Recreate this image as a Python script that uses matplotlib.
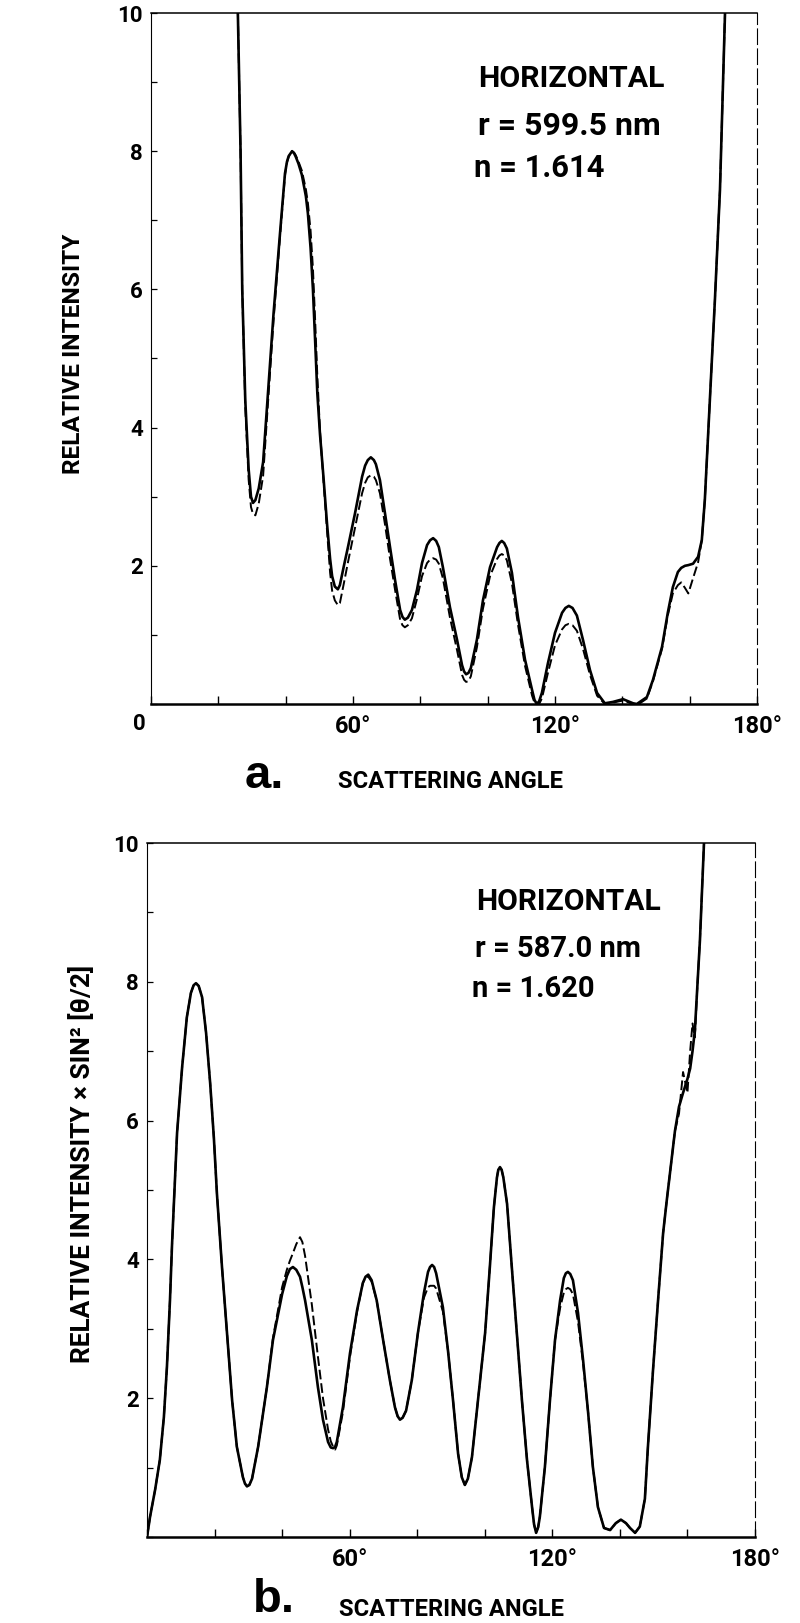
import matplotlib
matplotlib.use('Agg')
import matplotlib.pyplot as plt

plt.rcParams['font.family'] = ['Liberation Sans Narrow', 'Roboto', 'DejaVu Sans']
plt.rcParams['font.weight'] = 'bold'

# panel a: relative intensity, solid and dashed curves
angle_a = [25.0, 25.8, 26.6, 27.1, 28.0, 29.0, 29.7, 30.3, 31.0, 32.0,
           33.3, 34.6, 36.4, 38.3, 39.8, 40.4, 40.9, 41.9, 42.5, 43.0,
           43.8, 44.8, 46.0, 46.6, 47.4, 48.1, 48.8, 49.4, 50.2, 51.2,
           52.3, 53.2, 53.8, 54.6, 55.5, 56.1, 57.3, 58.5, 60.6, 62.7,
           63.6, 64.4, 65.3, 66.2, 66.8, 68.0, 69.5, 71.0, 72.5, 74.0,
           74.7, 75.4, 76.3, 77.5, 79.0, 80.5, 82.0, 82.9, 83.8, 84.7,
           85.5, 86.7, 88.8, 90.9, 92.4, 93.0, 93.6, 94.3, 95.0, 96.8,
           98.6, 100.7, 102.8, 103.5, 104.2, 104.9, 105.7, 107.2, 109.0, 111.1,
           113.2, 113.9, 114.6, 115.3, 116.1, 117.9, 120.0, 122.1, 123.1, 124.1,
           125.2, 126.5, 128.3, 130.4, 132.5, 134.8, 137.2, 140.2, 143.2, 144.3,
           147.3, 149.1, 151.8, 153.5, 155.0, 156.5, 157.5, 158.6, 159.6, 161.0,
           162.5, 163.6, 164.5, 165.4, 166.3, 167.5, 169.0, 170.5, 171.2]
solid_a = [11.5, 10.0, 8.0, 6.0, 4.4, 3.4, 3.0, 2.91, 2.95, 3.12,
           3.5, 4.4, 5.65, 6.8, 7.68, 7.85, 7.93, 8.0, 7.97, 7.92,
           7.82, 7.66, 7.35, 7.1, 6.6, 6.0, 5.2, 4.5, 3.9, 3.3,
           2.6, 2.1, 1.85, 1.7, 1.66, 1.72, 2.0, 2.27, 2.76, 3.29,
           3.45, 3.53, 3.57, 3.53, 3.47, 3.24, 2.76, 2.27, 1.79, 1.36,
           1.26, 1.22, 1.25, 1.36, 1.65, 2.04, 2.30, 2.37, 2.40, 2.36,
           2.27, 1.98, 1.40, 0.93, 0.56, 0.47, 0.43, 0.45, 0.52, 0.93,
           1.50, 1.98, 2.27, 2.33, 2.36, 2.33, 2.25, 1.90, 1.26, 0.64,
           0.20, 0.06, 0.0, 0.04, 0.16, 0.59, 1.03, 1.32, 1.39, 1.42,
           1.39, 1.28, 0.93, 0.49, 0.16, 0.01, 0.03, 0.07, 0.01, 0.0,
           0.1, 0.35, 0.83, 1.32, 1.69, 1.91, 1.97, 2.0, 2.01, 2.03,
           2.13, 2.37, 2.95, 3.82, 4.69, 5.85, 7.44, 10.0, 11.5]
dashed_a = [11.5, 10.0, 8.0, 6.0, 4.3, 3.25, 2.85, 2.75, 2.73, 2.9,
            3.3, 4.25, 5.55, 6.75, 7.65, 7.84, 7.92, 8.0, 7.98, 7.94,
            7.85, 7.72, 7.45, 7.25, 6.85, 6.3, 5.5, 4.75, 3.95, 3.25,
            2.5, 1.9, 1.64, 1.5, 1.43, 1.46, 1.75, 2.05, 2.55, 3.05,
            3.2, 3.28, 3.31, 3.29, 3.24, 3.05, 2.6, 2.1, 1.65, 1.22,
            1.14, 1.11, 1.14, 1.24, 1.52, 1.85, 2.04, 2.09, 2.11, 2.09,
            2.03, 1.82, 1.25, 0.78, 0.42, 0.35, 0.32, 0.33, 0.4, 0.82,
            1.38, 1.85, 2.1, 2.15, 2.17, 2.15, 2.08, 1.75, 1.15, 0.55,
            0.12, 0.02, -0.02, 0.0, 0.08, 0.45, 0.85, 1.08, 1.14, 1.16,
            1.14, 1.06, 0.8, 0.42, 0.12, 0.0, 0.02, 0.05, 0.0, -0.02,
            0.08, 0.33, 0.8, 1.28, 1.6, 1.72, 1.76, 1.68, 1.6, 1.82,
            2.05, 2.37, 2.95, 3.82, 4.69, 5.85, 7.44, 10.0, 11.5]

# panel b: relative intensity x sin^2(theta/2)
angle_b = [0.0, 0.9, 2.4, 3.8, 5.0, 5.9, 6.8, 7.4, 8.0, 8.9,
           10.4, 11.8, 13.0, 13.8, 14.5, 15.3, 16.3, 17.5, 18.7, 19.8,
           20.7, 22.2, 23.7, 25.2, 26.6, 28.4, 29.0, 29.6, 30.3, 31.1,
           32.9, 35.5, 37.3, 40.0, 41.4, 42.3, 43.2, 44.2, 45.3, 46.0,
           46.8, 48.8, 50.6, 52.1, 53.6, 54.4, 55.1, 55.7, 56.2, 58.0,
           60.1, 62.2, 63.9, 64.7, 65.5, 66.5, 68.0, 69.9, 71.9, 73.4,
           74.2, 74.9, 75.7, 76.7, 78.4, 80.2, 82.0, 83.2, 83.8, 84.4,
           85.0, 85.6, 87.6, 89.1, 90.6, 92.1, 93.2, 94.1, 95.0, 96.2,
           98.0, 100.1, 101.5, 102.7, 103.6, 104.0, 104.5, 105.0, 105.5, 106.6,
           108.0, 109.5, 111.0, 112.5, 114.0, 114.6, 115.2, 115.8, 116.3, 117.8,
           119.3, 120.8, 122.3, 123.4, 124.0, 124.6, 125.3, 126.1, 127.6, 129.1,
           130.6, 132.0, 133.5, 135.3, 137.1, 138.8, 140.3, 141.8, 143.0, 144.5,
           145.9, 147.4, 148.3, 149.8, 151.3, 152.8, 153.9, 155.2, 156.3, 157.5,
           158.7, 160.0, 160.8, 161.5, 162.2, 163.0, 163.7, 164.3, 164.9, 165.5]
solid_b = [0.0, 0.29, 0.68, 1.11, 1.73, 2.45, 3.41, 4.2, 4.86, 5.82,
           6.77, 7.49, 7.84, 7.95, 7.98, 7.94, 7.78, 7.26, 6.54, 5.75,
           4.95, 3.89, 2.94, 1.97, 1.3, 0.86, 0.77, 0.73, 0.75, 0.84,
           1.30, 2.16, 2.84, 3.5, 3.76, 3.86, 3.89, 3.85, 3.75, 3.6,
           3.41, 2.84, 2.16, 1.69, 1.37, 1.29, 1.28, 1.30, 1.37, 1.87,
           2.65, 3.27, 3.66, 3.75, 3.78, 3.70, 3.41, 2.84, 2.26, 1.87,
           1.74, 1.69, 1.72, 1.82, 2.26, 2.94, 3.52, 3.82, 3.89, 3.92,
           3.89, 3.80, 3.31, 2.69, 1.97, 1.2, 0.86, 0.75, 0.84, 1.15,
           1.97, 2.94, 3.89, 4.75, 5.18, 5.29, 5.33, 5.29, 5.18, 4.8,
           3.89, 2.94, 1.97, 1.11, 0.43, 0.18, 0.06, 0.14, 0.29, 1.01,
           1.97, 2.84, 3.41, 3.73, 3.80, 3.82, 3.79, 3.70, 3.23, 2.55,
           1.79, 1.01, 0.43, 0.13, 0.10, 0.2, 0.25, 0.2, 0.13, 0.06,
           0.15, 0.55, 1.3, 2.4, 3.41, 4.38, 4.86, 5.4, 5.85, 6.2,
           6.4, 6.6, 6.75, 7.0, 7.3, 8.0, 8.6, 9.3, 10.0, 11.0]
dashed_b = [0.0, 0.29, 0.68, 1.11, 1.73, 2.45, 3.41, 4.2, 4.86, 5.82,
            6.77, 7.49, 7.84, 7.95, 7.98, 7.94, 7.78, 7.26, 6.54, 5.75,
            4.95, 3.89, 2.94, 1.97, 1.3, 0.86, 0.77, 0.73, 0.75, 0.84,
            1.30, 2.16, 2.87, 3.6, 3.85, 3.98, 4.09, 4.22, 4.32, 4.25,
            4.05, 3.35, 2.6, 2.0, 1.55, 1.38, 1.3, 1.26, 1.32, 1.8,
            2.6, 3.25, 3.66, 3.74, 3.75, 3.68, 3.41, 2.84, 2.26, 1.87,
            1.74, 1.69, 1.72, 1.82, 2.26, 2.94, 3.45, 3.6, 3.62, 3.62,
            3.62, 3.58, 3.25, 2.69, 1.97, 1.2, 0.86, 0.75, 0.84, 1.15,
            1.97, 2.94, 3.89, 4.75, 5.18, 5.29, 5.33, 5.29, 5.18, 4.8,
            3.89, 2.94, 1.97, 1.11, 0.43, 0.18, 0.06, 0.14, 0.29, 1.01,
            1.97, 2.84, 3.30, 3.52, 3.57, 3.59, 3.57, 3.50, 3.10, 2.5,
            1.79, 1.01, 0.43, 0.13, 0.10, 0.2, 0.25, 0.2, 0.13, 0.06,
            0.15, 0.55, 1.3, 2.4, 3.41, 4.38, 4.86, 5.4, 5.85, 6.1,
            6.7, 6.4, 7.0, 7.4, 7.2, 8.0, 8.6, 9.3, 10.0, 11.0]

x_ticks = list(range(0, 181, 20))
x_labels = ['', '', '', '60°', '', '', '120°', '', '', '180°']
y_ticks = list(range(0, 11))
y_labels = ['', '', '2', '', '4', '', '6', '', '8', '', '10']

W, H = 800, 1623
fig = plt.figure(figsize=(W / 100, H / 100), dpi=100)
renderer = fig.canvas.get_renderer()


def px_box(left, top, right, bottom):
    return [left / W, 1 - bottom / H, (right - left) / W, (bottom - top) / H]


def fx(x):
    return x / W


def fy(y):
    return 1 - y / H


def fitted_text(x, y, s, size, span_px, **kw):
    # shrink the text if it runs much longer than it does in the original
    t = fig.text(fx(x), fy(y), s, fontsize=size, **kw)
    bb = t.get_window_extent(renderer)
    span = bb.height if kw.get('rotation') == 90 else bb.width
    limit = span_px * 1.08
    if span > limit:
        t.set_fontsize(size * limit / span)
    return t


def style_axes(ax):
    ax.set_xlim(0, 180)
    ax.set_ylim(0, 10)
    ax.set_xticks(x_ticks)
    ax.set_xticklabels(x_labels, fontsize=17)
    ax.set_yticks(y_ticks)
    ax.set_yticklabels(y_labels, fontsize=16)
    ax.tick_params(axis='x', direction='in', length=6, width=1.0, pad=8)
    ax.tick_params(axis='y', direction='in', length=4, width=0.9, pad=6)
    ax.spines['bottom'].set_linewidth(1.8)
    ax.spines['top'].set_linewidth(1.1)
    ax.spines['left'].set_linewidth(0.8)
    ax.spines['right'].set_linewidth(0.8)
    ax.spines['right'].set_linestyle((0, (14, 4)))


ax_a = fig.add_axes(px_box(151, 13, 757, 704))
ax_a.plot(angle_a, dashed_a, color='black', lw=1.4, ls=(0, (5, 2)))
ax_a.plot(angle_a, solid_a, color='black', lw=1.9)
style_axes(ax_a)

ax_b = fig.add_axes(px_box(147, 843, 755, 1537))
ax_b.plot(angle_b, dashed_b, color='black', lw=1.4, ls=(0, (5, 2)))
ax_b.plot(angle_b, solid_b, color='black', lw=1.9)
style_axes(ax_b)

# panel a annotations
fig.text(fx(139), fy(730), '0', ha='center', va='baseline', fontsize=16)
fitted_text(73, 354, 'RELATIVE INTENSITY', 20, 222, rotation=90,
            ha='center', va='center')
fitted_text(478, 87, 'HORIZONTAL', 27, 173, ha='left', va='baseline')
fitted_text(478, 135, 'r = 599.5 nm', 23, 175, ha='left', va='baseline')
fitted_text(474, 177, 'n = 1.614', 23, 121, ha='left', va='baseline')
fitted_text(264, 788, 'a.', 34, 40, ha='center', va='baseline',
            family=['Liberation Sans', 'DejaVu Sans'])
fitted_text(451, 788, 'SCATTERING ANGLE', 21, 208, ha='center', va='baseline')

# panel b annotations
fitted_text(82, 1164, 'RELATIVE INTENSITY × SIN² [θ/2]', 20, 368, rotation=90,
            ha='center', va='center')
fitted_text(476, 910, 'HORIZONTAL', 25, 172, ha='left', va='baseline')
fitted_text(475, 957, 'r = 587.0 nm', 21, 176, ha='left', va='baseline')
fitted_text(472, 997, 'n = 1.620', 21, 127, ha='left', va='baseline')
fitted_text(274, 1612, 'b.', 34, 40, ha='center', va='baseline',
            family=['Liberation Sans', 'DejaVu Sans'])
fitted_text(452, 1616, 'SCATTERING ANGLE', 21, 209, ha='center', va='baseline')

fig.savefig('out.png', dpi=100)
